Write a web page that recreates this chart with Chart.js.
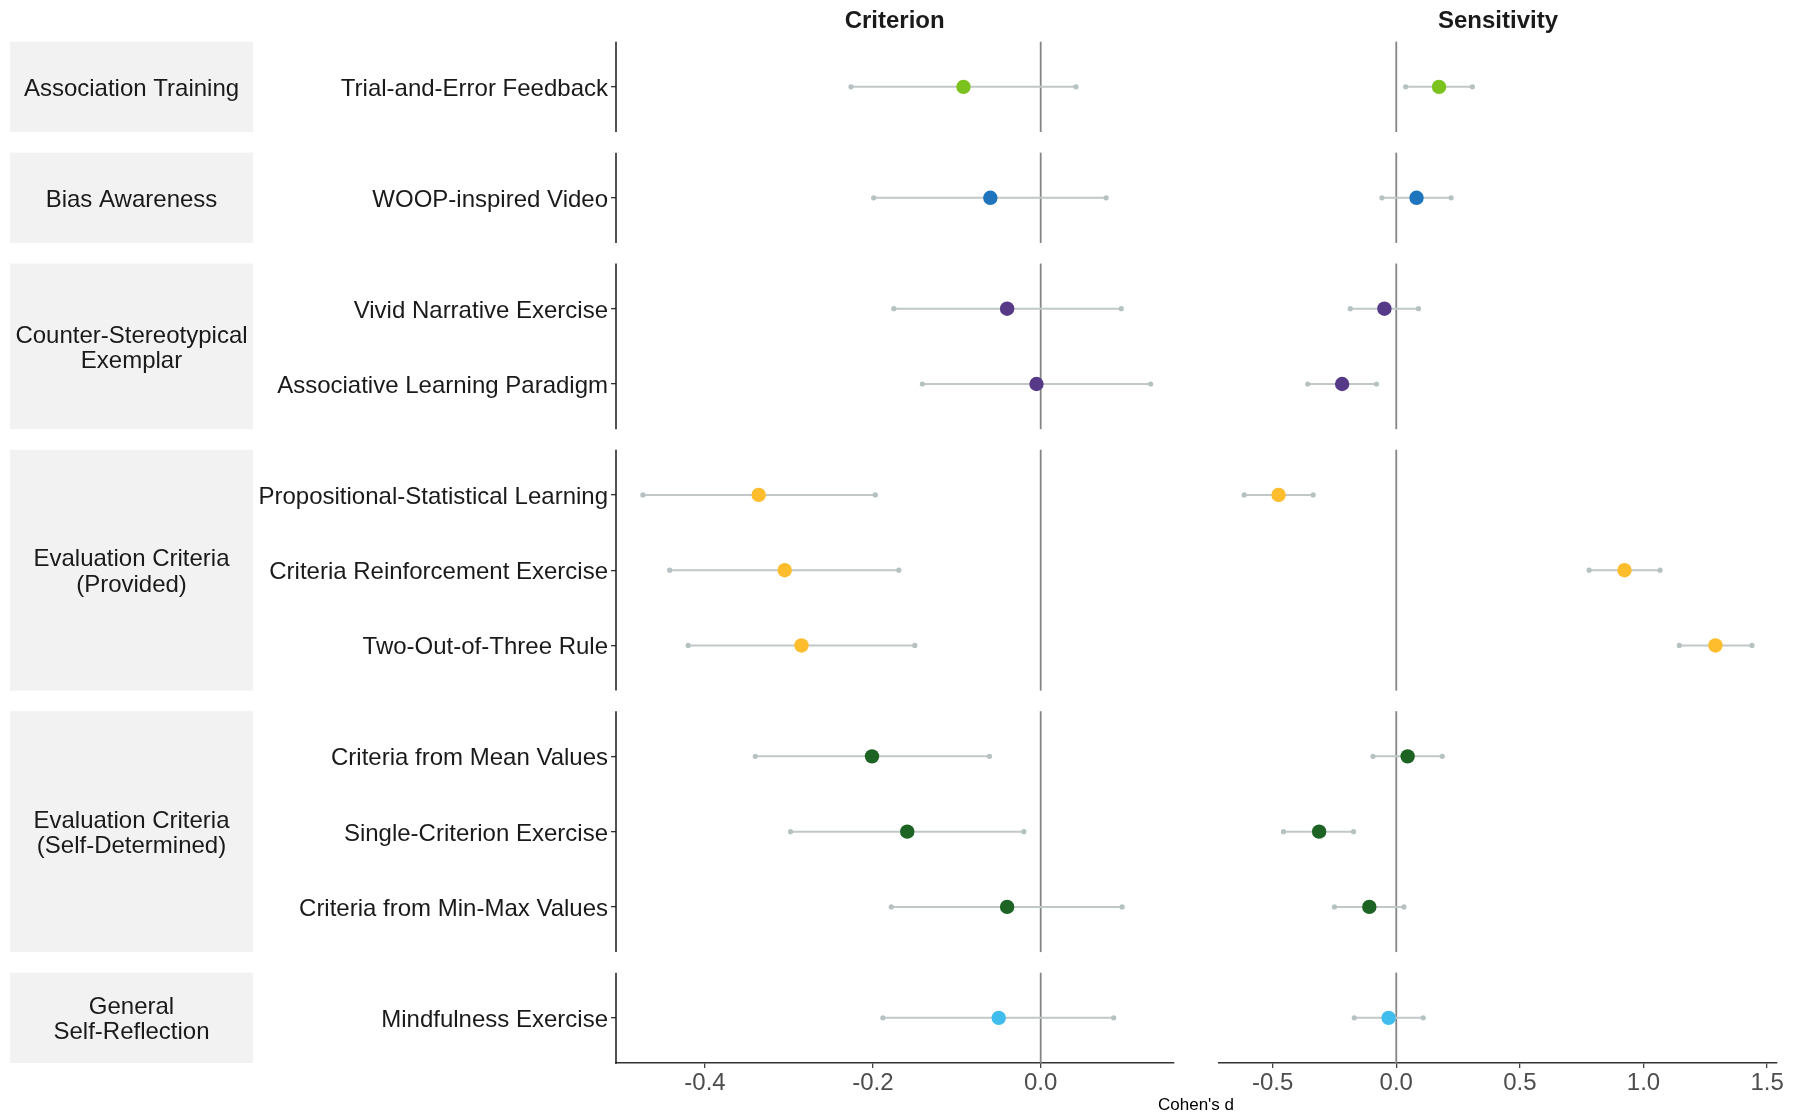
<!DOCTYPE html>
<html>
<head>
<meta charset="utf-8">
<script src="https://cdn.jsdelivr.net/npm/chart.js@4/dist/chart.umd.min.js"></script>
<style>
  html, body { margin: 0; padding: 0; background: #ffffff; }
  #wrap { position: relative; width: 1809px; height: 1115px; overflow: hidden; background: #ffffff; }
  #criterionChart { position: absolute; left: 0; top: 0; }
  #sensitivityChart { position: absolute; left: 1190px; top: 0; }
  #xTitle {
    position: absolute; left: 1096px; top: 1095px; width: 200px; text-align: center;
    font: 17px "Liberation Sans", Arial, sans-serif; color: #000000; line-height: 20px;
  }
</style>
</head>
<body>
<div id="wrap">
  <canvas id="criterionChart" width="1190" height="1115"></canvas>
  <canvas id="sensitivityChart" width="619" height="1115"></canvas>
  <div id="xTitle">Cohen's d</div>
</div>
<script>
// Intervention categories (facets) and the interventions within each
const groups = [
  "Association Training",
  "Bias Awareness",
  "Counter-Stereotypical\nExemplar",
  "Evaluation Criteria\n(Provided)",
  "Evaluation Criteria\n(Self-Determined)",
  "General\nSelf-Reflection"
];
const groupColors = ["#7CC21F", "#1E74BD", "#563A87", "#FDBD2D", "#1C6324", "#40BDEC"];

const interventions = [
  "Trial-and-Error Feedback",
  "WOOP-inspired Video",
  "Vivid Narrative Exercise",
  "Associative Learning Paradigm",
  "Propositional-Statistical Learning",
  "Criteria Reinforcement Exercise",
  "Two-Out-of-Three Rule",
  "Criteria from Mean Values",
  "Single-Criterion Exercise",
  "Criteria from Min-Max Values",
  "Mindfulness Exercise"
];
const interventionGroup = [0, 1, 2, 2, 3, 3, 3, 4, 4, 4, 5];

// Cohen's d with 95% CI — Criterion
const criterionEst  = [-0.092, -0.060, -0.040, -0.005, -0.336, -0.305, -0.285, -0.201, -0.159, -0.040, -0.050];
const criterionLow  = [-0.226, -0.199, -0.175, -0.141, -0.474, -0.442, -0.420, -0.340, -0.298, -0.178, -0.188];
const criterionHigh = [ 0.042,  0.078,  0.096,  0.131, -0.197, -0.169, -0.150, -0.061, -0.020,  0.097,  0.087];

// Cohen's d with 95% CI — Sensitivity
const sensitivityEst  = [ 0.173,  0.082, -0.048, -0.219, -0.476,  0.923,  1.291,  0.046, -0.312, -0.109, -0.031];
const sensitivityLow  = [ 0.038, -0.058, -0.186, -0.358, -0.615,  0.780,  1.145, -0.094, -0.456, -0.250, -0.170];
const sensitivityHigh = [ 0.308,  0.222,  0.090, -0.080, -0.336,  1.067,  1.439,  0.186, -0.173,  0.031,  0.109];

// Tick values
const criterionTicks = [-0.4, -0.2, 0.0];
const sensitivityTicks = [-0.5, 0.0, 0.5, 1.0, 1.5];

// ---- facet layout along the y scale (units = rows) ----
const EXPAND = 0.6;   // discrete-scale padding on each side of a panel
const GAP = 0.2737;   // spacing between panels, in row units
const rowPos = [];
const panels = [];
(function buildLayout() {
  let cursor = 0;
  groups.forEach((g, gi) => {
    const members = interventionGroup.map((v, i) => v === gi ? i : -1).filter(i => i >= 0);
    const start = cursor;
    members.forEach((idx, k) => { rowPos[idx] = start + EXPAND + k; });
    const end = start + members.length - 1 + 2 * EXPAND;
    panels.push({ start, end, label: g });
    cursor = end + GAP;
  });
  panels.total = cursor - GAP;
})();

const FONT = '"Liberation Sans", Arial, Helvetica, sans-serif';
const WHISKER = '#C2C7C7';
const WHISKER_END = '#B6C2C2';

// Panel decorations: strips, zero reference line, broken y axis line, column title
function facetPlugin(title, withStrips) {
  return {
    id: 'facetDecor',
    beforeDraw(chart) {
      if (!withStrips) return;
      const ctx = chart.ctx, y = chart.scales.y;
      ctx.save();
      panels.forEach(p => {
        const top = y.getPixelForValue(p.start);
        const bot = y.getPixelForValue(p.end);
        ctx.fillStyle = '#F2F2F2';
        ctx.fillRect(10, top, 243, bot - top);
        const lines = p.label.split('\n');
        ctx.fillStyle = '#1A1A1A';
        ctx.font = '24px ' + FONT;
        ctx.textAlign = 'center';
        ctx.textBaseline = 'middle';
        const lh = 25.4;
        const mid = (top + bot) / 2 + 2.3;
        lines.forEach((ln, i) => {
          ctx.fillText(ln, 131.5, mid + (i - (lines.length - 1) / 2) * lh);
        });
      });
      ctx.restore();
    },
    beforeDatasetsDraw(chart) {
      const ctx = chart.ctx, y = chart.scales.y, x = chart.scales.x;
      const x0 = x.getPixelForValue(0);
      ctx.save();
      panels.forEach(p => {
        const top = y.getPixelForValue(p.start);
        const bot = y.getPixelForValue(p.end);
        ctx.strokeStyle = '#858585';
        ctx.lineWidth = 1.8;
        ctx.beginPath();
        ctx.moveTo(x0, top);
        ctx.lineTo(x0, bot);
        ctx.stroke();
        if (withStrips) {
          ctx.strokeStyle = '#1A1A1A';
          ctx.lineWidth = 1.5;
          ctx.beginPath();
          ctx.moveTo(chart.chartArea.left, top);
          ctx.lineTo(chart.chartArea.left, bot + (p === panels[panels.length - 1] ? 0.75 : 0));
          ctx.stroke();
        }
      });
      ctx.restore();
    },
    afterDraw(chart) {
      const ctx = chart.ctx, a = chart.chartArea;
      ctx.save();
      ctx.fillStyle = '#1A1A1A';
      ctx.font = 'bold 24px ' + FONT;
      ctx.textAlign = 'center';
      ctx.textBaseline = 'middle';
      ctx.fillText(title, (a.left + a.right) / 2, 21.2);
      ctx.restore();
    }
  };
}

function buildChart(canvasId, est, low, high, ticks, xMin, xMax, title, isLeft, padding) {
  const pointData = est.map((v, i) => ({ x: v, y: rowPos[i] }));
  const pointColors = est.map((v, i) => groupColors[interventionGroup[i]]);
  const whiskers = est.map((v, i) => ({
    type: 'scatter',
    showLine: true,
    order: 1,
    data: [{ x: low[i], y: rowPos[i] }, { x: high[i], y: rowPos[i] }],
    borderColor: WHISKER,
    borderWidth: 2,
    pointRadius: 2.6,
    pointBackgroundColor: WHISKER_END,
    pointBorderWidth: 0,
    pointHoverRadius: 2.6
  }));
  return new Chart(document.getElementById(canvasId), {
    type: 'scatter',
    data: {
      datasets: [{
        order: 0,
        data: pointData,
        pointRadius: 7.2,
        pointHoverRadius: 7.2,
        pointBackgroundColor: pointColors,
        pointBorderWidth: 0
      }].concat(whiskers)
    },
    options: {
      responsive: false,
      animation: false,
      devicePixelRatio: 1,
      layout: { padding: padding },
      plugins: { legend: { display: false }, tooltip: { enabled: false }, title: { display: false } },
      scales: {
        x: {
          type: 'linear',
          position: 'bottom',
          min: xMin,
          max: xMax,
          afterBuildTicks(s) { s.ticks = ticks.map(v => ({ value: v })); },
          afterFit(s) { s.height = 52; s.paddingLeft = 0; s.paddingRight = 0; },
          ticks: {
            callback: v => Number(v).toFixed(1),
            color: '#4D4D4D',
            font: { family: FONT, size: 24 },
            padding: 1,
            maxRotation: 0,
            autoSkip: false
          },
          grid: { display: true, drawOnChartArea: false, drawTicks: true, tickLength: 5, color: '#444444', lineWidth: 1.3 },
          border: { display: true, color: '#333333', width: 1.5 }
        },
        y: {
          type: 'linear',
          display: isLeft,
          reverse: true,
          min: 0,
          max: panels.total,
          afterBuildTicks(s) { s.ticks = rowPos.map(v => ({ value: v })); },
          afterFit(s) { if (isLeft) { s.width = 616; s.paddingTop = 0; s.paddingBottom = 0; } },
          ticks: {
            callback: (v, i) => interventions[i],
            color: '#1A1A1A',
            font: { family: FONT, size: 24 },
            padding: 3,
            labelOffset: 2.3,
            autoSkip: false
          },
          grid: { display: true, drawOnChartArea: false, drawTicks: true, tickLength: 5, color: '#333333', lineWidth: 1.3 },
          border: { display: false }
        }
      }
    },
    plugins: [facetPlugin(title, isLeft)]
  });
}

buildChart('criterionChart', criterionEst, criterionLow, criterionHigh, criterionTicks,
  -0.506, 0.158, 'Criterion', true, { left: 0, right: 16.7, top: 41.7, bottom: 0 });
buildChart('sensitivityChart', sensitivityEst, sensitivityLow, sensitivityHigh, sensitivityTicks,
  -0.717, 1.540, 'Sensitivity', false, { left: 29, right: 32, top: 41.7, bottom: 0 });
</script>
</body>
</html>
